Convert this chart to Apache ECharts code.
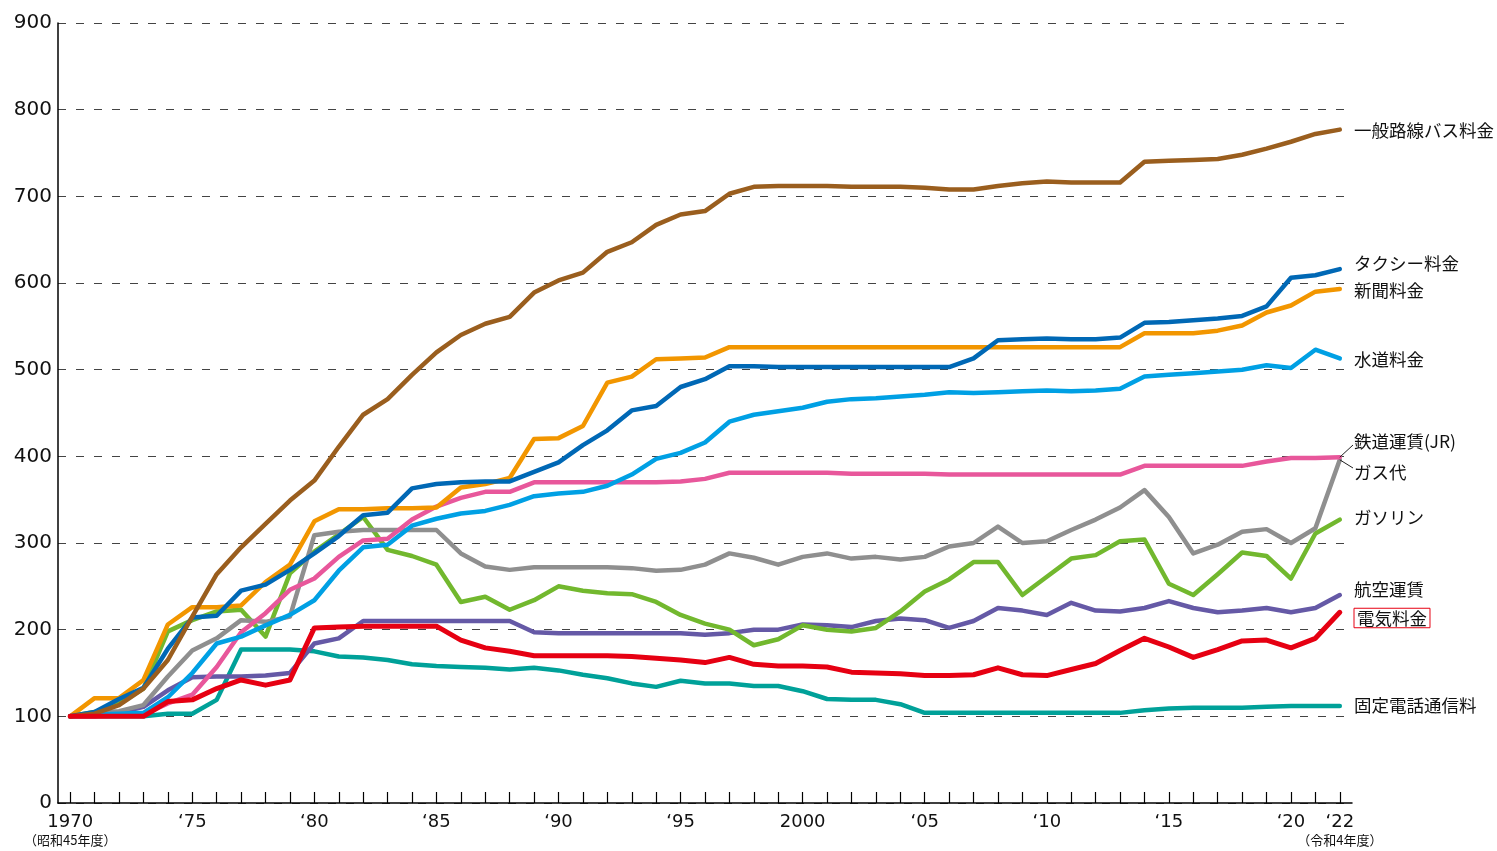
<!DOCTYPE html>
<html><head><meta charset="utf-8">
<script src="https://cdn.jsdelivr.net/npm/echarts@6/dist/echarts.min.js"></script>
<style>html,body{margin:0;padding:0;background:#fff}#c{width:1497px;height:851px}</style>
</head><body><div id="c"></div>
<script>
const years = [];
for (let y = 1970; y <= 2022; y++) years.push(String(y));

const yTicks = [0,100,200,300,400,500,600,700,800,900];
const xLabelYears = ['1970','1975','1980','1985','1990','1995','2000','2005','2010','2015','2020','2022'];
const xLabelText = {'1970':'1970','1975':'\u201875','1980':'\u201880','1985':'\u201885','1990':'\u201890','1995':'\u201895','2000':'2000','2005':'\u201805','2010':'\u201810','2015':'\u201815','2020':'\u201820','2022':'\u201822'};
const xSubText = {'1970':'（昭和45年度）','2022':'（令和4年度）'};

const bus = [100,103,113,132,165,215,264,295,322,349,372,411,448,466,494,520,540,553,561,589,603,612,636,647,667,679,683,703,711,712,712,712,711,711,711,710,708,708,712,715,717,716,716,716,740,741,742,743,748,755,763,772,777];
const taxi = [100,105,120,133,178,214,216,245,252,269,288,308,332,335,363,368,370,371,371,382,393,413,430,453,458,480,489,504,504,503,503,503,503,503,503,503,503,513,534,535,536,535,535,537,554,555,557,559,562,573,606,609,616];
const paper = [100,121,121,142,206,226,226,228,255,275,325,339,339,340,340,341,364,368,375,420,421,435,485,492,512,513,514,526,526,526,526,526,526,526,526,526,526,526,526,526,526,526,526,526,542,542,542,545,551,566,574,590,593];
const water = [100,102,103,104,122,150,184,192,205,217,234,268,295,298,320,328,334,337,344,354,357,359,366,379,397,404,416,440,448,452,456,463,466,467,469,471,474,473,474,475,476,475,476,478,492,494,496,498,500,505,502,523,513];
const jr = [100,100,101,102,115,125,157,197,219,246,259,284,303,305,327,342,352,359,359,370,370,370,370,370,370,371,374,381,381,381,381,381,380,380,380,380,379,379,379,379,379,379,379,379,389,389,389,389,389,394,398,398,399];
const gas = [100,104,106,113,146,176,190,211,209,215,309,313,315,315,315,315,288,273,269,272,272,272,272,271,268,269,275,288,283,275,284,288,282,284,281,284,296,300,319,300,302,315,327,341,361,330,288,298,313,316,300,317,396];
const gasoline = [100,105,115,132,198,211,221,223,192,265,290,310,330,292,285,275,232,238,223,234,250,245,242,241,232,217,207,200,182,189,205,200,198,202,221,244,258,278,278,240,261,282,286,302,304,253,240,264,289,285,259,311,327];
const air = [100,100,104,111,130,145,146,146,147,150,184,190,210,210,210,210,210,210,210,197,196,196,196,196,196,196,194,196,200,200,206,205,203,210,213,211,202,210,225,222,217,231,222,221,225,233,225,220,222,225,220,225,240];
const elec = [100,100,100,100,117,119,132,142,136,142,202,203,204,204,204,204,188,179,175,170,170,170,170,169,167,165,162,168,160,158,158,157,151,150,149,147,147,148,156,148,147,154,161,176,190,180,168,177,187,188,179,190,220];
const phone = [100,100,100,100,103,103,119,177,177,177,175,169,168,165,160,158,157,156,154,156,153,148,144,138,134,141,138,138,135,135,129,120,119,119,114,104,104,104,104,104,104,104,104,104,107,109,110,110,110,111,112,112,112];

const seriesDefs = [
  {name:'固定電話通信料', data: phone, color:'#00A199', labelY:705},
  {name:'航空運賃', data: air, color:'#6559A6', labelY:589},
  {name:'ガソリン', data: gasoline, color:'#72B82E', labelY:517},
  {name:'ガス代', data: gas, color:'#8F8F8F', labelY:472, leader:true},
  {name:'鉄道運賃(JR)', data: jr, color:'#E8579B', labelY:441, leader:true},
  {name:'水道料金', data: water, color:'#00A0E4', labelY:359},
  {name:'新聞料金', data: paper, color:'#F29600', labelY:290},
  {name:'タクシー料金', data: taxi, color:'#0068B5', labelY:263},
  {name:'一般路線バス料金', data: bus, color:'#9A5E1E', labelY:130},
  {name:'電気料金', data: elec, color:'#E60012', labelY:618, box:true, width:5}
];

const chart = echarts.init(document.getElementById('c'), null, {renderer:'canvas'});
const labelX = 1354;
const numFont = 'DejaVu Sans, Liberation Sans, sans-serif';
const jpFont = 'Noto Sans CJK JP, sans-serif';

function baseOption(){
  return {
    animation:false,
    backgroundColor:'#fff',
    grid:{left:58, right:145, top:23, bottom:48, containLabel:false},
    xAxis:[{
      type:'category', data:years, boundaryGap:true,
      axisLine:{lineStyle:{color:'#000', width:1.5}},
      axisTick:{show:true, inside:true, alignWithLabel:true, interval:0, length:11, lineStyle:{color:'#000', width:1.2}},
      axisLabel:{
        interval:function(i, v){ return xLabelYears.indexOf(v) >= 0; },
        hideOverlap:false,
        margin:10, color:'#111', fontFamily:numFont, fontSize:18,
        formatter:function(v){ return xLabelText[v] || ''; }
      },
      splitLine:{show:false}, z:5
    },{
      type:'category', data:years, boundaryGap:true, position:'bottom',
      axisLine:{show:false}, axisTick:{show:false}, splitLine:{show:false},
      axisLabel:{
        interval:function(i, v){ return !!xSubText[v]; },
        hideOverlap:false,
        margin:31, color:'#111', fontFamily:jpFont, fontSize:13,
        formatter:function(v){ return xSubText[v] || ''; }
      }
    }],
    yAxis:{
      type:'value', min:yTicks[0], max:yTicks[yTicks.length-1], interval:100,
      axisLine:{show:true, lineStyle:{color:'#000', width:1.5}},
      axisTick:{show:false},
      axisLabel:{margin:6, color:'#111', fontFamily:numFont, fontSize:20},
      splitLine:{show:true, lineStyle:{color:'#444', width:1.1, type:[8,10]}}
    },
    series: seriesDefs.map(d => ({
      name:d.name, type:'line', data:d.data, showSymbol:false, symbol:'none',
      xAxisIndex:0,
      lineStyle:{color:d.color, width:d.width || 4.5, cap:'round', join:'round'},
      itemStyle:{color:d.color},
      emphasis:{disabled:true}, silent:true, z:2
    }))
  };
}

chart.setOption(baseOption());

const last = years.length - 1;
const graphics = [];
const opt = baseOption();
opt.series.forEach((s, i) => {
  const d = seriesDefs[i];
  const p = chart.convertToPixel({seriesIndex:i}, [last, d.data[last]]);
  const dy = d.labelY - p[1];
  s.endLabel = {
    show:true, formatter:d.name, distance:0,
    offset:[labelX - p[0], dy],
    align:'left', verticalAlign:'middle',
    fontFamily:jpFont, fontSize:17.5, color:'#111',
    padding: d.box ? [1,3,1,3] : 0,
    borderColor: d.box ? '#E60012' : 'transparent', borderWidth: d.box ? 1 : 0
  };
  if (d.leader) {
    graphics.push({type:'line', shape:{x1:p[0], y1:p[1], x2:labelX-1, y2:d.labelY + (d.labelY < p[1] ? 4 : -4)},
      style:{stroke:'#222', lineWidth:1}, z:10});
  }
});
opt.graphic = graphics;
chart.setOption(opt, true);
</script>
</body></html>
